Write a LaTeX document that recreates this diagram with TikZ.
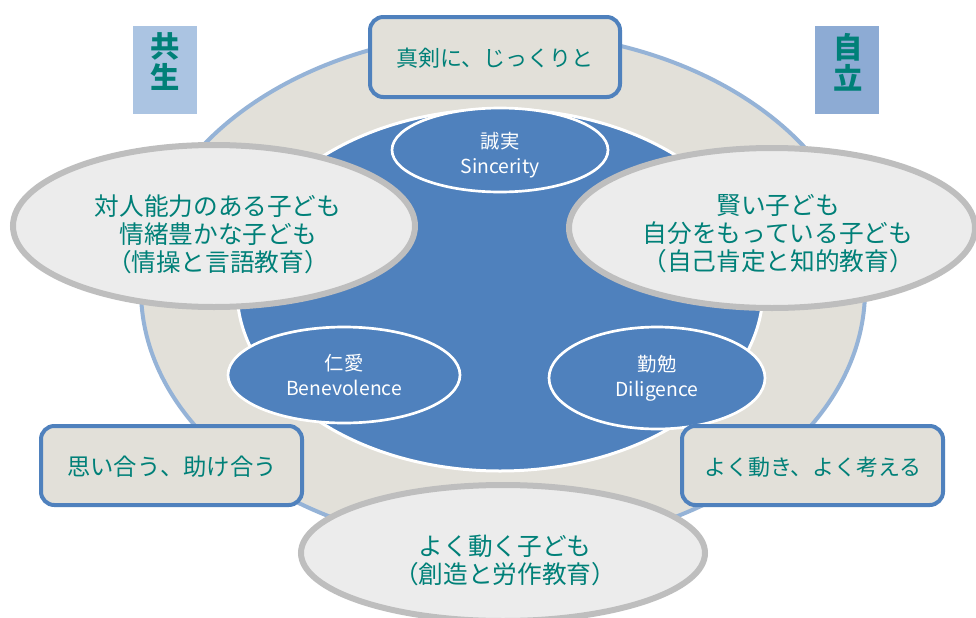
\documentclass[tikz,border=0pt]{standalone}
\usepackage{fontspec}
\setmainfont{Noto Sans CJK JP}
\usetikzlibrary{shapes.geometric}
\definecolor{ringfill}{RGB}{226,224,217}
\definecolor{ringline}{RGB}{149,179,215}
\definecolor{mainblue}{RGB}{79,129,189}
\definecolor{greyfill}{RGB}{236,236,236}
\definecolor{greyline}{RGB}{190,190,190}
\definecolor{txtteal}{RGB}{0,128,120}
\definecolor{kyousei}{RGB}{171,196,226}
\definecolor{jiritsu}{RGB}{141,171,212}
\tikzset{
  ring/.style={ellipse, draw=ringline, line width=3pt, fill=ringfill, inner sep=0pt},
  core/.style={ellipse, draw=white, line width=2.25pt, fill=mainblue, inner sep=0pt},
  virtue/.style={ellipse, draw=white, line width=2pt, fill=mainblue, inner sep=0pt},
  child/.style={ellipse, draw=greyline, line width=4.5pt, fill=greyfill, inner sep=0pt},
  motto/.style={rectangle, rounded corners=10pt, draw=mainblue, line width=3pt, fill=ringfill, inner sep=0pt},
  tagbox/.style={rectangle, inner sep=0pt, minimum width=48pt, minimum height=66pt},
  childtxt/.style={text=txtteal, font=\fontsize{18.5pt}{21pt}\selectfont, align=center},
  mottotxt/.style={text=txtteal, font=\fontsize{16.5pt}{19pt}\selectfont},
  virtuetxt/.style={text=white, font=\fontsize{14.5pt}{18.5pt}\selectfont, align=center},
  tagtxt/.style={text=txtteal, font=\fontsize{22pt}{23.25pt}\selectfont\bfseries, align=center}
}
\begin{document}
\begin{tikzpicture}[x=0.75pt,y=-0.75pt]
\useasboundingbox (0,0) rectangle (976,618);
\clip (0,0) rectangle (976,618);
\fill[white] (0,0) rectangle (976,618);
% outer ring and core
\node[ring, minimum width=543pt, minimum height=387pt] (ring) at (503,290) {};
\node[core, minimum width=394.5pt, minimum height=271.5pt] (core) at (500,290) {};
% virtues
\node[virtue, minimum width=162pt, minimum height=63pt] (sin) at (500,150) {};
\node[virtuetxt] (sint) at (500,155) {誠実\\Sincerity};
\node[virtue, minimum width=174pt, minimum height=72pt] (ben) at (344,375) {};
\node[virtuetxt] (bent) at (344,375) {仁愛\\Benevolence};
\node[virtue, minimum width=162pt, minimum height=76.5pt] (dil) at (657,378) {};
\node[virtuetxt] (dilt) at (657,378) {勤勉\\Diligence};
% mottos
\node[motto, minimum width=187.5pt, minimum height=60pt] (m1) at (495,57) {};
\node[mottotxt] (m1t) at (495,58) {真剣に、じっくりと};
\node[motto, minimum width=195.75pt, minimum height=59.25pt] (m2) at (171.5,465.5) {};
\node[mottotxt, font=\fontsize{17.5pt}{19pt}\selectfont] (m2t) at (172,467) {思い合う、助け合う};
\node[motto, minimum width=195.75pt, minimum height=59.25pt] (m3) at (812.5,465.5) {};
\node[mottotxt] (m3t) at (813,467) {よく動き、よく考える};
% children
\node[child, minimum width=301.5pt, minimum height=121.5pt] (c1) at (214,226) {};
\node[childtxt] (c1t) at (218,234) {対人能力のある子ども\\情緒豊かな子ども\\（情操と言語教育）};
\node[child, minimum width=304.5pt, minimum height=120pt] (c2) at (772,228) {};
\node[childtxt] (c2t) at (778,234) {賢い子ども\\自分をもっている子ども\\（自己肯定と知的教育）};
\node[child, minimum width=303pt, minimum height=102pt] (c3) at (503,553) {};
\node[childtxt] (c3t) at (505,560) {よく動く子ども\\（創造と労作教育）};
% tags
\node[tagbox, fill=kyousei] (k) at (165,70) {};
\node[tagtxt] (kt) at (165,62) {共\\生};
\node[tagbox, fill=jiritsu] (j) at (847,70) {};
\node[tagtxt] (jt) at (848,62) {自\\立};
\end{tikzpicture}
\end{document}
